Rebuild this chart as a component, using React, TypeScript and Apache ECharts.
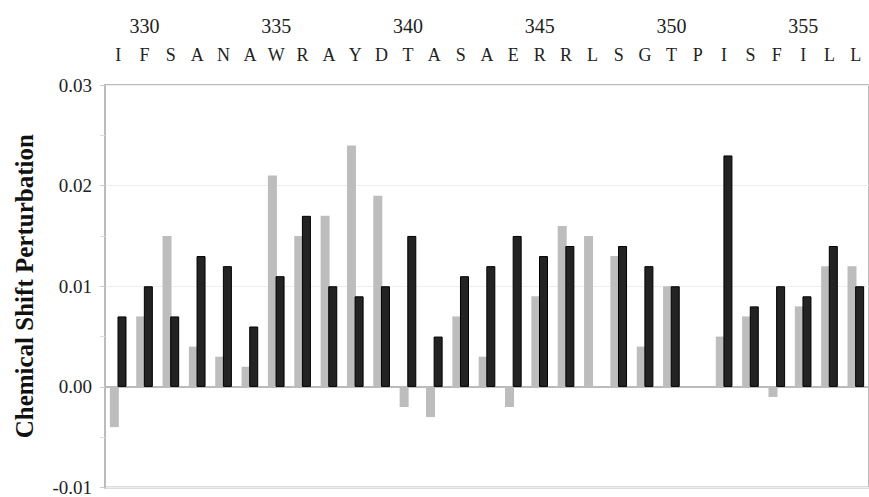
import React, { useEffect, useRef } from "react";
import * as echarts from "echarts";

const residues = ["I","F","S","A","N","A","W","R","A","Y","D","T","A","S","A","E","R","R","L","S","G","T","P","I","S","F","I","L","L"];
const residueNumbers = ["329","330","331","332","333","334","335","336","337","338","339","340","341","342","343","344","345","346","347","348","349","350","351","352","353","354","355","356","357"];
const numberTicks = ["330","335","340","345","350","355"];
const grayValues = [-0.004, 0.007, 0.015, 0.004, 0.003, 0.002, 0.021, 0.015, 0.017, 0.024, 0.019, -0.002, -0.003, 0.007, 0.003, -0.002, 0.009, 0.016, 0.015, 0.013, 0.004, 0.010, null, 0.005, 0.007, -0.001, 0.008, 0.012, 0.012];
const blackValues = [0.007, 0.010, 0.007, 0.013, 0.012, 0.006, 0.011, 0.017, 0.010, 0.009, 0.010, 0.015, 0.005, 0.011, 0.012, 0.015, 0.013, 0.014, null, 0.014, 0.012, 0.010, null, 0.023, 0.008, 0.010, 0.009, 0.014, 0.010];
const yMin = -0.01;
const yMax = 0.03;
const yStep = 0.01;

const FONT = "'Liberation Serif', 'Times New Roman', serif";

export default function App() {
  const ref = useRef<HTMLDivElement>(null);
  useEffect(() => {
    if (!ref.current) return;
    const chart = echarts.init(ref.current, null, { renderer: "svg" });
    chart.setOption({
      animation: false,
      backgroundColor: "#ffffff",
      grid: {
        left: 105,
        right: -4,
        top: 85,
        bottom: 6,
        show: true,
        borderColor: "#bbbbbb",
        borderWidth: 2,
      },
      xAxis: [
        {
          type: "category",
          position: "top",
          data: residues,
          axisLine: { show: true, lineStyle: { color: "#bbbbbb", width: 2 } },
          axisTick: { show: false },
          axisLabel: {
            interval: 0,
            margin: 21,
            fontFamily: FONT,
            fontSize: 18,
            color: "#222222",
          },
          splitLine: { show: false },
        },
        {
          type: "category",
          position: "top",
          data: residueNumbers,
          axisLine: { show: false },
          axisTick: { show: false },
          axisLabel: {
            interval: 0,
            margin: 49,
            fontFamily: FONT,
            fontSize: 20,
            color: "#222222",
            formatter: (v: string) => (numberTicks.includes(v) ? v : ""),
          },
          splitLine: { show: false },
        },
      ],
      yAxis: {
        type: "value",
        min: yMin,
        max: yMax,
        interval: yStep,
        name: "Chemical Shift Perturbation",
        nameLocation: "middle",
        nameRotate: 90,
        nameGap: 68,
        nameTextStyle: {
          fontFamily: FONT,
          fontSize: 25,
          fontWeight: "bold",
          color: "#111111",
        },
        axisLine: { show: true, lineStyle: { color: "#bbbbbb", width: 2 } },
        axisTick: { show: true, length: 5, lineStyle: { color: "#cccccc" } },
        minorTick: { show: true, splitNumber: 2, length: 5, lineStyle: { color: "#dddddd" } },
        axisLabel: {
          margin: 13,
          fontFamily: FONT,
          fontSize: 19,
          color: "#222222",
          formatter: (v: number) => v.toFixed(2),
        },
        splitLine: { show: true, lineStyle: { color: "#eeeeee", width: 1 } },
      },
      series: [
        {
          type: "bar",
          data: grayValues,
          barWidth: 9,
          barGap: "-15%",
          itemStyle: { color: "#bdbdbd" },
        },
        {
          type: "bar",
          data: blackValues,
          barWidth: 9,
          barGap: "-15%",
          itemStyle: { color: "#232323", borderColor: "#000000", borderWidth: 1 },
        },
      ],
    });
    return () => chart.dispose();
  }, []);
  return (
    <div
      ref={ref}
      style={{ position: "absolute", left: 0, top: 0, width: 869, height: 497 }}
    />
  );
}
